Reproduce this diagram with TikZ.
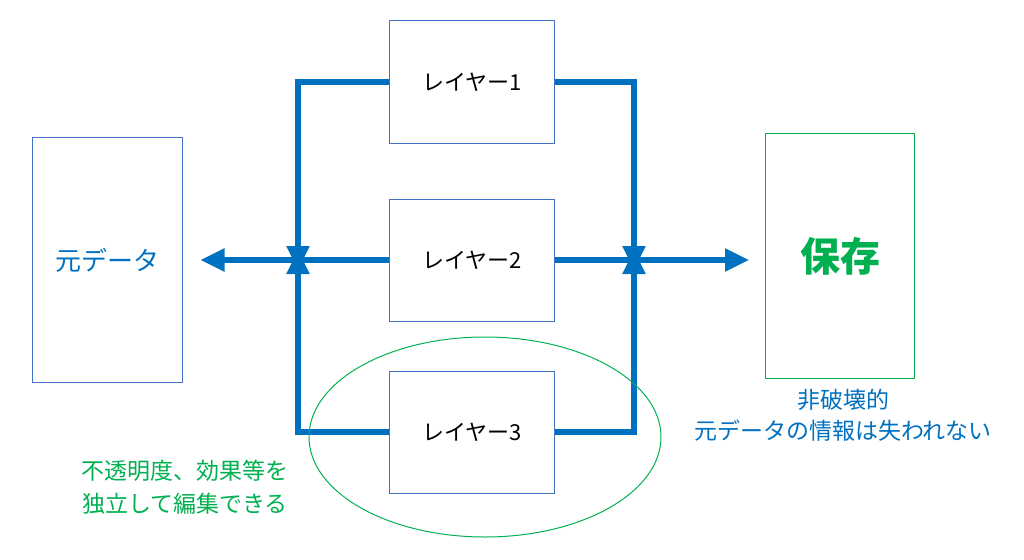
\documentclass[tikz,border=0pt]{standalone}
\usepackage{fontspec}
\setmainfont{Noto Sans CJK JP}
\usetikzlibrary{arrows.meta}
\definecolor{bx}{HTML}{4472C4}
\definecolor{ar}{HTML}{0070C0}
\definecolor{gr}{HTML}{00B050}
\begin{document}
\begin{tikzpicture}[x=1pt,y=-1pt,
 lay/.style={draw=bx,line width=1pt,minimum width=165pt,minimum height=122pt,inner sep=0pt,font=\fontsize{22}{26}\selectfont},
 arr/.style={draw=ar,line width=5.5pt,-{Triangle[length=24pt,width=22pt]}}]
\useasboundingbox (0,0) rectangle (1024,559);
\node[lay] (l1) at (472,82) {レイヤー1};
\node[lay] (l2) at (472,260) {レイヤー2};
\node[lay] (l3) at (472,432) {レイヤー3};
\node[draw=bx,line width=1pt,minimum width=150pt,minimum height=245pt,text=ar,font=\fontsize{26}{30}\selectfont] (src) at (107,260) {元データ};
\node[draw=gr,line width=1pt,minimum width=149pt,minimum height=245pt,text=gr,font=\fontsize{40}{44}\selectfont\bfseries] (sv) at (840,256) {保存};
\coordinate (lj) at (298,260);
\coordinate (rj) at (634,260);
\draw[arr] (l2.west) -- ([xshift=18pt]src.east |- l2.west);
\draw[arr] (l2.east) -- ([xshift=-16pt]sv.west |- l2.east);
\draw[arr] (l1.west) -| ([yshift=-10pt]lj);
\draw[arr] (l1.east) -| ([yshift=-10pt]rj);
\draw[arr] (l3.west) -| ([yshift=10pt]lj);
\draw[arr] (l3.east) -| ([yshift=10pt]rj);
\draw[gr,line width=1pt] (485,437) ellipse [x radius=176, y radius=100];
\node[text=gr,align=center,font=\fontsize{23}{33}\selectfont] (t1) at (185,487) {不透明度、効果等を\\独立して編集できる};
\node[text=ar,align=center,font=\fontsize{23}{31}\selectfont] (t2) at (843,415) {非破壊的\\元データの情報は失われない};
\end{tikzpicture}
\end{document}
